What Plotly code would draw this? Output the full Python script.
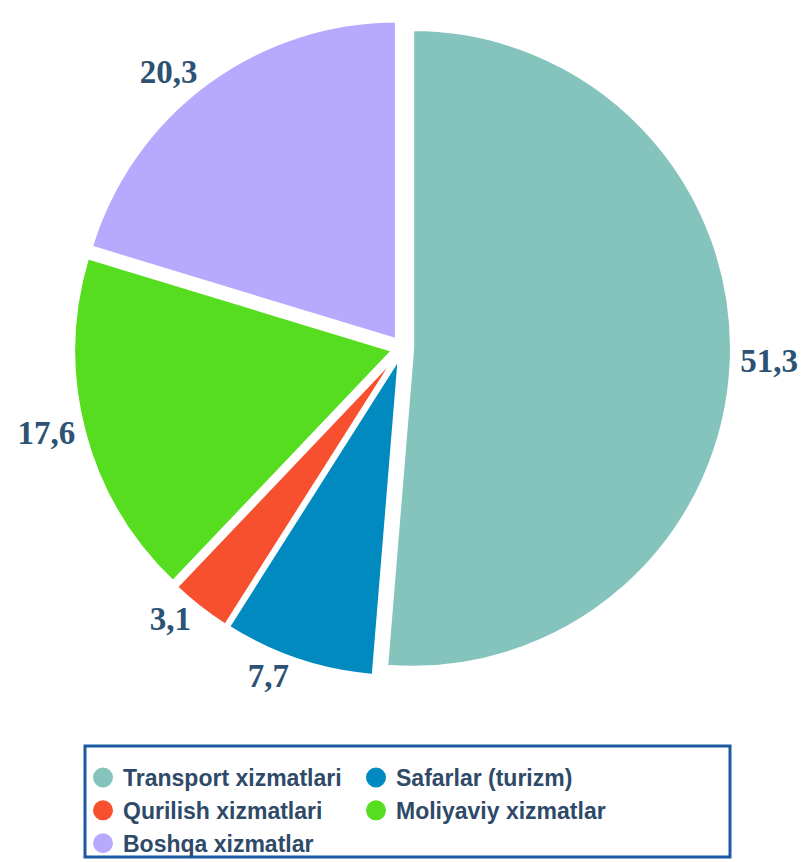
import plotly.graph_objects as go

categories = ["Transport xizmatlari", "Safarlar (turizm)", "Qurilish xizmatlari",
              "Moliyaviy xizmatlar", "Boshqa xizmatlar"]
values = [51.3, 7.7, 3.1, 17.6, 20.3]
colors = ["#85C4BC", "#008ABF", "#F7502E", "#57DD1F", "#B7A9FE"]

label_color = "#2C5274"
legend_text_color = "#2E4A68"

W, H = 801, 862
ML, MR, MT, MB = 4, 0, 19, 185
PW, PH = W - ML - MR, H - MT - MB

fig = go.Figure()
fig.add_trace(go.Pie(
    labels=categories,
    values=values,
    sort=False,
    direction="clockwise",
    rotation=0,
    pull=[0.032] * len(values),
    marker=dict(colors=colors, line=dict(color="white", width=3)),
    texttemplate="%{value:.1f}",
    textposition="outside",
    outsidetextfont=dict(family="Liberation Serif", size=33, color=label_color, weight="bold"),
    textfont=dict(family="Liberation Serif", size=33, color=label_color, weight="bold"),
    showlegend=False,
    hoverinfo="label+value",
))

# legend-only traces with circular symbols
for name, col in zip(categories, colors):
    fig.add_trace(go.Scatter(
        x=[None], y=[None], mode="markers", name=name,
        marker=dict(symbol="circle", size=16, color=col, line=dict(color=col, width=4)),
        showlegend=True,
    ))

def px_x(px):
    return (px - ML) / PW

def px_y(py):
    return (H - MB - py) / PH

fig.update_layout(
    width=W, height=H,
    margin=dict(t=MT, b=MB, l=ML, r=MR, autoexpand=False),
    paper_bgcolor="white", plot_bgcolor="white",
    separators=",.",
    xaxis=dict(visible=False), yaxis=dict(visible=False),
    legend=dict(
        orientation="h",
        x=px_x(83), xanchor="left",
        y=px_y(756), yanchor="top",
        font=dict(family="Liberation Sans", size=23, color=legend_text_color, weight="bold"),
        bgcolor="rgba(0,0,0,0)",
        itemsizing="trace",
        tracegroupgap=0,
        entrywidth=228, entrywidthmode="pixels",
    ),
    shapes=[dict(
        type="rect", xref="paper", yref="paper",
        x0=px_x(85), x1=px_x(730),
        y0=px_y(857), y1=px_y(746),
        line=dict(color="#1B5AA3", width=3),
        fillcolor="rgba(0,0,0,0)",
    )],
)

fig.write_html("out.html", config={"displayModeBar": False},
               post_script="document.body.style.margin='0px';")
